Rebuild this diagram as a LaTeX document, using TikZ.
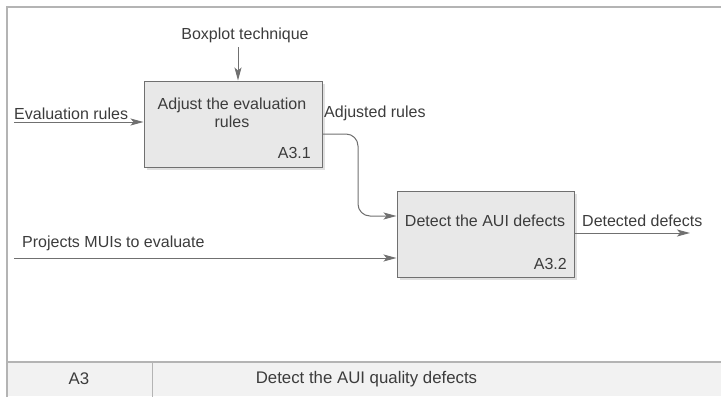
\documentclass[tikz,border=0pt]{standalone}
\usepackage{fontspec}
\setmainfont{Liberation Sans}
\usetikzlibrary{arrows.meta}
\definecolor{ink}{HTML}{3C3C3C}
\definecolor{edge}{HTML}{707070}
\definecolor{boxfill}{HTML}{E8E8E8}
\definecolor{framec}{HTML}{B4B4B4}
\definecolor{stripfill}{HTML}{F2F2F2}
\begin{document}
\begin{tikzpicture}[x=1pt,y=-1pt,
  txt/.style={text=ink,font=\fontsize{16}{18.5}\selectfont,inner sep=0pt},
  striptxt/.style={text=ink,font=\fontsize{16.8}{19}\selectfont,inner sep=0pt},
  activity/.style={draw=edge,line width=1pt,fill=boxfill,minimum width=178pt,minimum height=86pt,inner sep=0pt},
  flow/.style={draw=edge,line width=1pt,-{Stealth[length=13pt,width=7pt,inset=3pt]},rounded corners=12pt},
  shade/.style={fill=black!12}]
\useasboundingbox (0,0) rectangle (721,397);
% outer frame and title strip
\fill[stripfill] (7,362) rectangle (721,396);
\draw[framec,line width=1.5pt] (7,397) -- (7,7) -- (721,7);
\draw[framec,line width=1.5pt] (7,362) -- (721,362);
\draw[framec,line width=1pt] (152,362) -- (152,397);
\node[striptxt] (num) at (79,379) {A3};
\node[striptxt] (title) at (366.5,379) {Detect the AUI quality defects};
% activity boxes with soft shadows
\fill[shade] (147,84) rectangle (325,170);
\fill[shade] (400,194) rectangle (577,280);
\node[activity] (b1) at (233,124) {};
\node[activity,minimum width=177pt] (b2) at (485.5,234) {};
\node[txt,align=center] (t1) at (232,113) {Adjust the evaluation\\rules};
\node[txt,anchor=east] (n1) at (311,153) {A3.1};
\node[txt] (t2) at (485,221) {Detect the AUI defects};
\node[txt,anchor=east] (n2) at (567,264) {A3.2};
% external ends of the arrows
\coordinate (er) at (14,122);
\coordinate (bp) at (238,47);
\coordinate (pm) at (14,258);
\coordinate (od) at (690,233);
\coordinate (ar) at (322,134);
\coordinate (bend) at (358,134);
% arrows
\draw[flow] (er) -- (er -| b1.west);
\draw[flow] (bp) -- (bp |- b1.north);
\draw[flow] (pm) -- (pm -| b2.west);
\draw[flow] (od -| b2.east) -- (od);
\draw[flow] (ar) -- (bend) -- (bend |- 0,216) -- (b2.west |- 0,216);
% arrow labels
\node[txt] (lbp) at (245,35) {Boxplot technique};
\node[txt,anchor=west] (ler) at (14,114) {Evaluation rules};
\node[txt,anchor=west] (lar) at (324,113) {Adjusted rules};
\node[txt,anchor=west] (lpm) at (22,243) {Projects MUIs to evaluate};
\node[txt,anchor=west] (lod) at (582,221) {Detected defects};
\end{tikzpicture}
\end{document}
